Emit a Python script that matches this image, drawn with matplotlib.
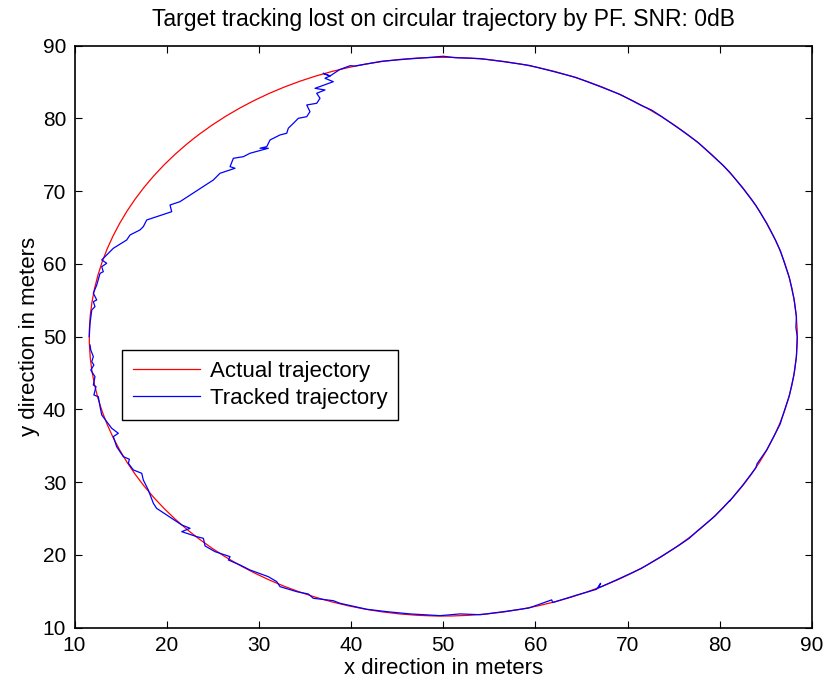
import matplotlib
matplotlib.use("Agg")
import matplotlib.pyplot as plt
from matplotlib.patches import Circle
from matplotlib.lines import Line2D

# Actual trajectory: circle centre and radius (metres)
actual_center = (50.0, 50.0)
actual_radius = 38.4

# Tracked trajectory (PF estimate), in travel order
tracked_x = [
    11.68, 11.76, 12.04, 11.87, 12.10, 11.76, 12.22, 12.04, 12.33, 12.10,
    12.58, 12.77, 12.95, 13.49, 14.03, 14.75, 14.21, 14.57, 15.29, 15.95,
    15.84, 16.38, 17.29, 17.46, 18.00, 18.55, 18.90, 21.63, 22.53, 21.63,
    23.26, 23.98, 24.16, 25.24, 26.87, 26.69, 27.95, 29.03, 31.02, 31.93,
    32.29, 34.10, 35.36, 35.90, 38.07, 38.80, 41.70, 43.87, 46.39, 49.65,
    51.82, 54.01, 56.67, 59.29, 61.76, 61.87, 64.38, 66.64, 67.07, 66.83,
    69.20, 71.47, 73.64, 75.69, 76.70, 77.62, 79.42, 81.10, 81.07, 82.56,
    83.90, 84.05, 85.08, 86.08, 86.55, 86.91, 87.56, 88.03, 88.31, 88.40,
    88.25, 88.31, 88.03, 87.56, 86.91, 86.60, 86.08, 85.08, 83.90, 82.56,
    81.07, 80.40, 79.42, 77.62, 75.69, 73.64, 72.60, 71.47, 69.20, 66.83,
    64.38, 61.87, 59.29, 56.67, 54.01, 51.34, 50.00, 48.66, 45.99, 43.33,
    40.40, 39.90, 38.77,
    37.71, 36.99, 37.71, 37.17, 38.07, 36.09, 37.17, 36.27, 36.63, 36.27,
    35.19, 35.54, 35.19, 34.28, 33.74, 33.19, 33.02, 32.29, 31.21, 30.85,
    30.12, 31.02, 29.03, 28.31, 27.23, 26.87, 27.41, 25.78, 25.06, 21.44,
    20.36, 20.54, 17.83, 17.46, 17.10, 16.02, 15.66, 14.21, 13.31, 12.95,
    13.49, 12.95, 13.12, 12.77, 12.41, 12.04, 12.41, 12.04, 12.22, 11.87,
    11.68, 11.60,
]
tracked_y = [
    48.85, 48.17, 47.26, 46.57, 46.10, 45.42, 44.50, 43.36, 43.13, 41.99,
    41.75, 40.38, 39.24, 38.32, 37.41, 36.72, 36.26, 34.88, 33.51, 33.15,
    32.60, 31.68, 31.22, 30.30, 28.93, 27.10, 26.41, 24.12, 23.66, 23.20,
    22.51, 22.28, 21.23, 20.45, 19.76, 19.30, 18.62, 17.93, 17.01, 16.33,
    15.64, 14.95, 14.63, 14.04, 13.71, 13.35, 12.53, 12.20, 11.89, 11.65,
    11.89, 11.78, 12.22, 12.70, 13.82, 13.45, 14.44, 15.28, 16.10, 15.45,
    16.80, 18.13, 19.78, 21.42, 22.30, 23.36, 25.28, 27.50, 27.40, 29.70,
    31.97, 32.55, 34.42, 36.83, 38.00, 39.46, 41.98, 44.70, 47.28, 50.00,
    51.30, 52.72, 55.30, 58.02, 60.54, 61.70, 63.17, 65.58, 68.07, 70.31,
    72.61, 73.50, 74.64, 76.72, 78.50, 80.30, 81.15, 81.79, 83.29, 84.47,
    85.64, 86.48, 87.30, 87.78, 88.23, 88.34, 88.55, 88.40, 88.15, 87.86,
    87.20, 87.25, 86.72,
    85.83, 86.20, 85.83, 85.52, 85.05, 84.14, 83.91, 83.46, 82.77, 82.08,
    81.85, 80.93, 80.24, 80.02, 79.33, 78.65, 77.96, 77.73, 77.04, 76.12,
    75.90, 75.90, 75.21, 74.74, 74.52, 73.37, 73.15, 72.46, 71.54, 68.56,
    68.10, 67.18, 66.04, 65.12, 64.67, 63.98, 63.29, 62.15, 61.00, 60.55,
    60.09, 59.62, 58.93, 58.71, 57.10, 55.97, 55.05, 54.81, 54.13, 53.67,
    51.84, 50.00,
]

x_ticks = [10, 20, 30, 40, 50, 60, 70, 80, 90]
y_ticks = [10, 20, 30, 40, 50, 60, 70, 80, 90]

plt.rcParams["font.family"] = ["Liberation Sans", "DejaVu Sans"]

fig = plt.figure(figsize=(8.29, 6.88), dpi=100)
ax = fig.add_axes([0.0899, 0.0877, 0.8896, 0.8459])

ax.add_patch(Circle(actual_center, actual_radius, fill=False,
                    edgecolor="#ff0000", linewidth=0.9, zorder=2))
ax.plot(tracked_x, tracked_y, color="#0000ff", linewidth=0.9, zorder=3)

ax.set_xlim(10, 90)
ax.set_ylim(10, 90)
ax.set_xticks(x_ticks)
ax.set_yticks(y_ticks)
ax.tick_params(direction="in", length=5, width=0.8, labelsize=15,
               top=True, right=True, pad=6)
for sp in ax.spines.values():
    sp.set_linewidth(1.2)

ax.set_title("Target tracking lost on circular trajectory by PF. SNR: 0dB",
             fontsize=16.5, pad=14)
ax.set_xlabel("x direction in meters", fontsize=16, labelpad=2)
ax.set_ylabel("y direction in meters", fontsize=16, labelpad=2)

handles = [Line2D([], [], color="#ff0000", linewidth=0.9),
           Line2D([], [], color="#0000ff", linewidth=0.9)]
leg = ax.legend(handles, ["Actual trajectory", "Tracked trajectory"],
                loc="upper left", bbox_to_anchor=(0.064, 0.477),
                borderaxespad=0, fancybox=False, framealpha=1,
                edgecolor="black", fontsize=16, handlelength=3.0,
                handletextpad=0.45, labelspacing=0.25, borderpad=0.5)
leg.get_frame().set_linewidth(1.0)

fig.savefig("out.png", dpi=100)
